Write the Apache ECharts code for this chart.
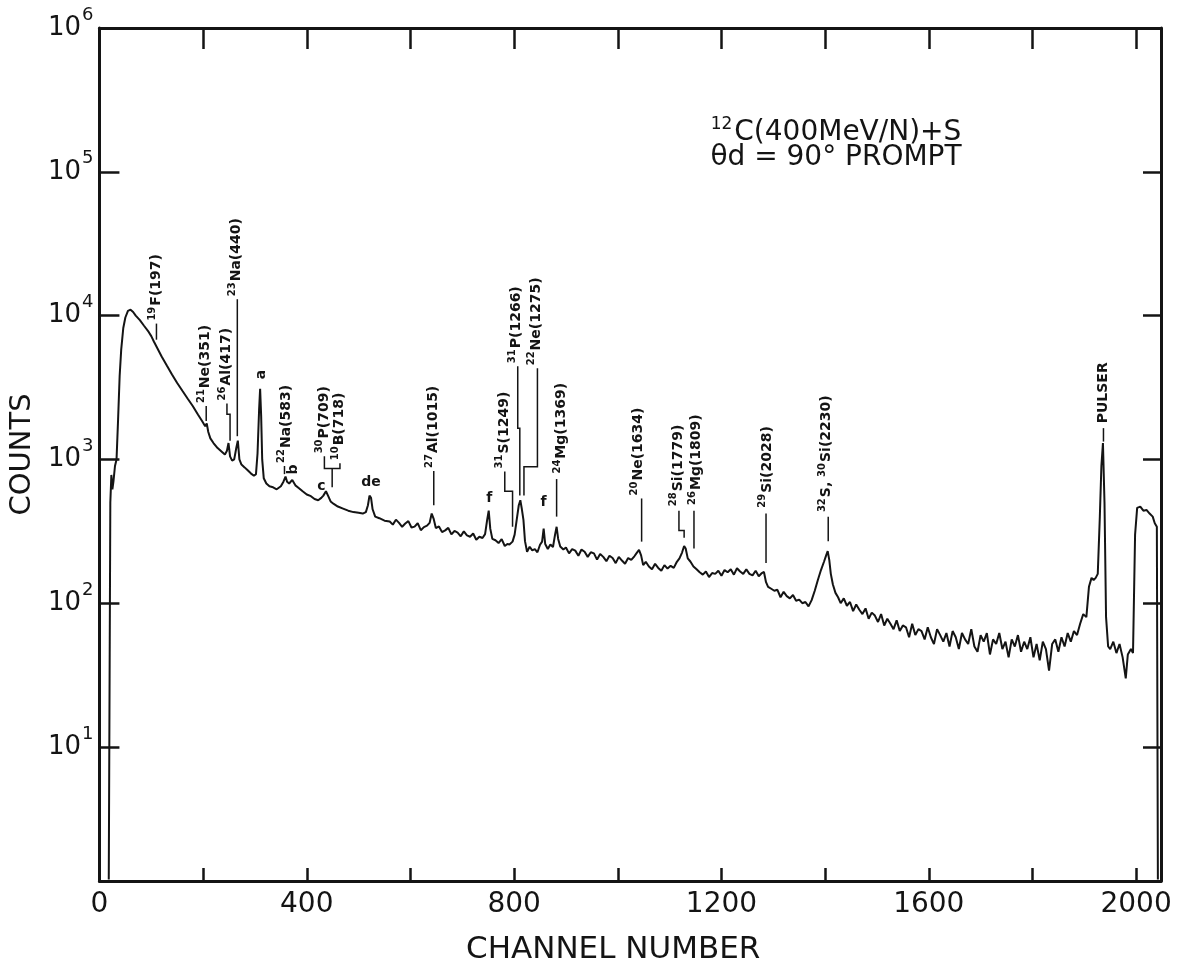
<!DOCTYPE html>
<html>
<head>
<meta charset="utf-8">
<script src="https://cdn.jsdelivr.net/npm/echarts@6/dist/echarts.min.js"></script>
<style>
  html, body { margin: 0; background: #fff; }
  #chart { width: 1181px; height: 975px; }
</style>
</head>
<body>
<div id="chart"></div>
<script>
// spectrum: channel number and counts
const channels = [
  18, 21, 23, 25, 27, 30, 33, 36, 39, 42, 46, 50, 55, 60, 65, 70, 78, 86, 95, 100,
  105, 112, 120, 130, 140, 150, 160, 170, 180, 190, 198, 204, 207, 210, 214, 220, 228, 236, 242, 246,
  249, 252, 256, 260, 264, 267, 270, 274, 280, 286, 292, 298, 302, 305, 308, 310, 312, 314, 317, 322,
  328, 335, 342, 350, 355, 359, 362, 366, 372, 378, 385, 392, 400, 408, 415, 422, 428, 432, 437, 441,
  446, 452, 460, 470, 480, 490, 500, 508, 514, 518, 521, 524, 527, 532, 540, 550, 560, 566, 572, 578,
  584, 590, 596, 602, 608, 614, 620, 626, 632, 637, 641, 645, 649, 655, 661, 667, 673, 679, 685, 691,
  697, 703, 709, 715, 721, 727, 733, 739, 744, 748, 751, 754, 758, 764, 770, 776, 782, 787, 791, 797,
  801, 805, 809, 812, 815, 818, 821, 825, 830, 835, 840, 845, 850, 854, 857, 860, 865, 870, 875, 879,
  882, 885, 889, 895, 900, 906, 912, 918, 924, 930, 936, 942, 948, 954, 960, 966, 972, 978, 984, 990,
  996, 1002, 1008, 1014, 1020, 1026, 1032, 1037, 1041, 1045, 1049, 1054, 1060, 1066, 1072, 1078, 1084, 1090, 1096, 1102,
  1108, 1114, 1119, 1124, 1128, 1131, 1135, 1140, 1146, 1152, 1158, 1164, 1170, 1176, 1182, 1188, 1194, 1200, 1206, 1212,
  1218, 1224, 1230, 1236, 1242, 1248, 1254, 1260, 1266, 1272, 1278, 1282, 1286, 1290, 1296, 1302, 1308, 1314, 1320, 1326,
  1332, 1338, 1344, 1350, 1356, 1362, 1368, 1374, 1380, 1386, 1392, 1398, 1402, 1405, 1408, 1411, 1415, 1420, 1425, 1430,
  1436, 1442, 1448, 1454, 1460, 1466, 1472, 1478, 1484, 1490, 1496, 1502, 1508, 1514, 1520, 1526, 1532, 1538, 1544, 1550,
  1556, 1562, 1568, 1574, 1580, 1586, 1592, 1598, 1604, 1610, 1616, 1622, 1628, 1634, 1640, 1646, 1652, 1658, 1664, 1670,
  1676, 1682, 1688, 1694, 1700, 1706, 1712, 1718, 1724, 1730, 1736, 1742, 1748, 1754, 1760, 1766, 1772, 1778, 1784, 1790,
  1796, 1802, 1808, 1814, 1820, 1826, 1832, 1838, 1844, 1850, 1856, 1862, 1868, 1874, 1880, 1886, 1892, 1898, 1904, 1909,
  1914, 1918, 1922, 1926, 1930, 1933, 1936, 1939, 1942, 1946, 1950, 1956, 1962, 1968, 1974, 1980, 1984, 1990, 1994, 1998,
  2002, 2008, 2014, 2020, 2026, 2032, 2036, 2040, 2042
];
const counts = [
  1.2, 500, 780, 620, 700, 900, 1000, 1900, 3800, 5800, 8200, 9700, 10800, 11000, 10600, 10000, 9300, 8500, 7700, 7200,
  6600, 5900, 5200, 4500, 3900, 3400, 3000, 2650, 2350, 2050, 1850, 1700, 1780, 1550, 1400, 1300, 1200, 1130, 1080, 1150,
  1300, 1050, 980, 1000, 1200, 1350, 1000, 920, 880, 840, 800, 770, 790, 1100, 2200, 3100, 2000, 1000, 740, 680,
  650, 640, 620, 650, 700, 760, 700, 680, 720, 660, 630, 600, 570, 555, 530, 520, 540, 560, 600, 560,
  510, 490, 470, 455, 440, 430, 425, 420, 430, 480, 560, 540, 450, 400, 390, 375, 370, 352, 381, 362,
  340, 358, 372, 336, 341, 360, 322, 338, 346, 362, 420, 384, 333, 342, 312, 321, 334, 301, 318, 310,
  292, 316, 296, 290, 305, 276, 290, 284, 302, 380, 440, 330, 280, 274, 262, 279, 250, 258, 256, 268,
  300, 380, 480, 520, 450, 380, 270, 228, 247, 233, 238, 226, 255, 268, 330, 258, 238, 256, 246, 300,
  340, 280, 248, 236, 244, 222, 238, 232, 214, 236, 228, 210, 226, 222, 201, 220, 210, 196, 214, 206,
  190, 210, 198, 188, 206, 200, 212, 225, 235, 215, 184, 194, 180, 172, 188, 176, 168, 184, 174, 182,
  176, 194, 205, 225, 250, 240, 205, 195, 180, 172, 164, 158, 166, 152, 162, 160, 168, 155, 170, 164,
  172, 158, 175, 166, 160, 172, 160, 156, 168, 154, 162, 165, 140, 130, 126, 122, 124, 110, 120, 112,
  108, 114, 104, 106, 100, 102, 95, 105, 122, 145, 170, 195, 215, 230, 200, 160, 135, 118, 110, 100,
  108, 96, 102, 88, 98, 90, 84, 92, 78, 86, 82, 74, 84, 70, 78, 72, 66, 76, 64, 70,
  68, 58, 72, 60, 66, 64, 56, 68, 58, 52, 66, 60, 54, 62, 50, 64, 58, 48, 62, 56,
  52, 66, 50, 46, 60, 54, 62, 44, 56, 52, 62, 48, 54, 42, 56, 50, 60, 46, 54, 48,
  58, 42, 52, 40, 54, 48, 34, 52, 56, 46, 58, 50, 62, 54, 64, 60, 72, 84, 80, 130,
  150, 145, 150, 160, 400, 900, 1300, 500, 80, 50, 48, 54, 45, 52, 42, 30, 44, 48, 45, 300,
  460, 470, 440, 445, 420, 400, 360, 340, 1.2
];

// peak identifications: text, channel and counts where the text starts
const peakTexts = [
  '{s|19}{n|F(197)}', '{s|21}{n|Ne(351)}', '{s|26}{n|Al(417)}', '{s|23}{n|Na(440)}',
  '{s|22}{n|Na(583)}', '{s|30}{n|P(709)}', '{s|10}{n|B(718)}', '{s|27}{n|Al(1015)}',
  '{s|31}{n|S(1249)}', '{s|31}{n|P(1266)}', '{s|22}{n|Ne(1275)}', '{s|24}{n|Mg(1369)}',
  '{s|20}{n|Ne(1634)}', '{s|28}{n|Si(1779)}', '{s|26}{n|Mg(1809)}', '{s|29}{n|Si(2028)}',
  '{s|32}{n|S, }{s|30}{n|Si(2230)}', '{n|PULSER}'
];
const peakChannels = [110, 205, 245, 265, 360, 433, 463, 645, 781, 805, 843, 892, 1040, 1116, 1152, 1288, 1403, 1937];
const peakCounts = [8800, 2350, 2450, 13000, 900, 1050, 940, 830, 825, 4450, 4300, 760, 535, 450, 460, 440, 410, 1700];

// unassigned peaks a..f
const letterTexts = ['a', 'b', 'c', 'de', 'f', 'f'];
const letterChannels = [312, 375, 428, 524, 752, 857];
const letterCounts = [3900, 850, 650, 690, 540, 500];
const letterTurned = [true, true, false, false, false, false];

// leader lines, as [channel, counts] points
const leaders = [
  [[110, 8800], [110, 6800]],
  [[206, 2350], [206, 1850]],
  [[246, 2450], [246, 2060], [252, 2060], [252, 1350]],
  [[266, 13000], [266, 1450]],
  [[357, 900], [357, 790]],
  [[434, 1050], [434, 865], [464, 865], [464, 940]],
  [[449, 865], [449, 640]],
  [[645, 830], [645, 480]],
  [[782, 825], [782, 600], [797, 600], [797, 340]],
  [[807, 4450], [807, 1650], [811, 1650], [811, 560]],
  [[845, 4300], [845, 890], [819, 890], [819, 560]],
  [[882, 730], [882, 400]],
  [[1046, 535], [1046, 268]],
  [[1118, 440], [1118, 320], [1128, 320], [1128, 285]],
  [[1147, 440], [1147, 240]],
  [[1286, 420], [1286, 190]],
  [[1406, 400], [1406, 270]],
  [[1937, 1650], [1937, 1330]]
];

const FONT = '"DejaVu Sans", sans-serif';
const INK = '#141414';
const Y_MIN = 1.17;

const chart = echarts.init(document.getElementById('chart'));

const axisLineStyle = { onZero: false, lineStyle: { color: INK, width: 3 } };

chart.setOption({
  animation: false,
  backgroundColor: '#fff',
  grid: { left: 97, right: 20, top: 28, bottom: 94 },
  xAxis: [{
    type: 'value', min: 0, max: 2048, interval: 200,
    name: 'CHANNEL NUMBER', nameLocation: 'middle', nameGap: 53,
    nameTextStyle: { fontFamily: FONT, fontSize: 31, color: INK, padding: [0, 34, 0, 0] },
    axisLine: axisLineStyle,
    axisTick: { inside: true, length: 13, lineStyle: { color: INK, width: 2.5 } },
    axisLabel: {
      margin: 10, fontFamily: FONT, fontSize: 28, color: INK,
      formatter: v => (v % 400 === 0 ? String(v) : '')
    },
    splitLine: { show: false }
  }, {
    type: 'value', position: 'top', min: 0, max: 2048, interval: 200,
    axisLine: axisLineStyle,
    axisTick: { inside: true, length: 21, lineStyle: { color: INK, width: 2.5 } },
    axisLabel: { show: false },
    splitLine: { show: false }
  }],
  yAxis: [{
    type: 'log', logBase: 10, min: Y_MIN, max: 1e6,
    name: 'COUNTS', nameLocation: 'middle', nameGap: 55, nameRotate: 90,
    nameTextStyle: { fontFamily: FONT, fontSize: 29, color: INK },
    axisLine: axisLineStyle,
    axisTick: { inside: true, length: 20, lineStyle: { color: INK, width: 2.5 } },
    minorTick: { show: false },
    axisLabel: {
      margin: 6,
      formatter: v => {
        const e = Math.round(Math.log10(v));
        if (Math.abs(Math.log10(v) - e) > 0.01) return '';
        return '{b|10}{s|' + e + '}';
      },
      rich: {
        b: { fontFamily: FONT, fontSize: 26, color: INK },
        s: { fontFamily: FONT, fontSize: 18, color: INK, padding: [0, 0, 26, 1] }
      }
    },
    splitLine: { show: false }
  }, {
    type: 'log', logBase: 10, min: Y_MIN, max: 1e6, position: 'right',
    axisLine: axisLineStyle,
    axisTick: { inside: true, length: 18, lineStyle: { color: INK, width: 2.5 } },
    axisLabel: { show: false },
    splitLine: { show: false }
  }],
  series: [{
    type: 'line',
    data: channels.map((ch, i) => [ch, counts[i]]),
    showSymbol: false,
    symbol: 'none',
    lineStyle: { color: INK, width: 2 },
    silent: true
  }]
});

// annotations placed through the series' own coordinate system
const toPx = p => chart.convertToPixel({ seriesIndex: 0 }, p);
const graphics = [];

const richLabel = {
  n: { fontFamily: FONT, fontSize: 14, fontWeight: 'bold', fill: INK },
  s: { fontFamily: FONT, fontSize: 10, fontWeight: 'bold', fill: INK, padding: [0, 1, 9, 0] }
};

peakTexts.forEach((t, i) => {
  const [x, y] = toPx([peakChannels[i], peakCounts[i]]);
  graphics.push({
    type: 'text', x: x, y: y - 3, rotation: Math.PI / 2, silent: true,
    style: { text: t, rich: richLabel, align: 'left', verticalAlign: 'middle' }
  });
});

letterTexts.forEach((t, i) => {
  const [x, y] = toPx([letterChannels[i], letterCounts[i]]);
  graphics.push({
    type: 'text', x: x, y: y, rotation: letterTurned[i] ? Math.PI / 2 : 0, silent: true,
    style: {
      text: t, fill: INK, fontFamily: FONT, fontSize: 14, fontWeight: 'bold',
      align: 'center', verticalAlign: 'middle'
    }
  });
});

leaders.forEach(path => {
  graphics.push({
    type: 'polyline', silent: true,
    shape: { points: path.map(toPx) },
    style: { stroke: INK, lineWidth: 1.5, fill: null }
  });
});

// reaction title
graphics.push({
  type: 'text', x: 836, y: 133, silent: true,
  style: {
    text: '{s|12}{n|C(400MeV/N)+S}', align: 'center', verticalAlign: 'middle',
    rich: {
      n: { fontFamily: FONT, fontSize: 28, fill: INK },
      s: { fontFamily: FONT, fontSize: 17, fill: INK, padding: [0, 2, 16, 0] }
    }
  }
});
graphics.push({
  type: 'text', x: 836, y: 158, silent: true,
  style: {
    text: 'θd = 90° PROMPT', align: 'center', verticalAlign: 'middle',
    fill: INK, fontFamily: FONT, fontSize: 28
  }
});

chart.setOption({ graphic: graphics });
</script>
</body>
</html>
